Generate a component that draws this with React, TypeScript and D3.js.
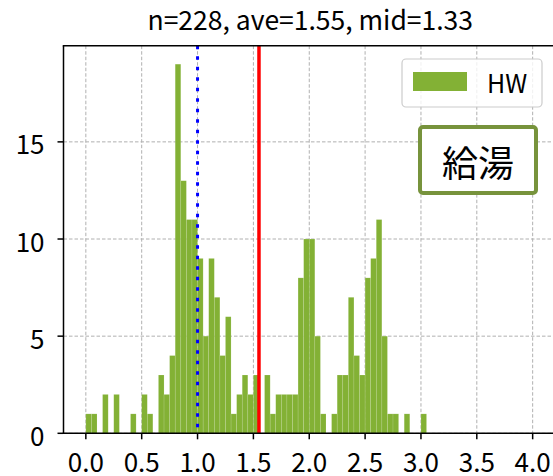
import React from "react";
import * as d3 from "d3";

const binWidth = 0.05;
const binStart = 0.0;
const counts = [
  1, 1, 0, 2, 0, 2, 0, 0, 1, 0, 2, 1, 0, 3, 2, 4, 19, 13, 11, 11,
  9, 5, 9, 7, 4, 6, 1, 2, 3, 2, 3, 0, 3, 1, 2, 2, 2, 2, 8, 10,
  10, 5, 1, 0, 1, 3, 3, 7, 4, 3, 8, 9, 11, 5, 1, 1, 0, 1, 0, 0, 1,
];
const xTicks = [0.0, 0.5, 1.0, 1.5, 2.0, 2.5, 3.0, 3.5, 4.0];
const yTicks = [0, 5, 10, 15];
const meanValue = 1.55;
const refValue = 1.0;
const titleText = "n=228, ave=1.55, mid=1.33";
const legendLabel = "HW";
const boxLabel = "給湯";

const W = 553;
const H = 476;
const FONT = "'Noto Sans CJK JP', 'Noto Sans', sans-serif";
const BAR = "#83b135";

export default function App() {
  const x = d3.scaleLinear().domain([-0.2, 4.2]).range([63.5, 555]);
  const y = d3.scaleLinear().domain([0, 19.95]).range([433.3, 45.7]);
  const [x0, x1] = x.range();
  const [yb, yt] = y.range();

  const bins = counts.map((c, i) => ({
    lo: binStart + i * binWidth,
    hi: binStart + (i + 1) * binWidth,
    c,
  }));

  return (
    <svg
      width={W}
      height={H}
      style={{ position: "absolute", left: 0, top: 0, background: "#fff" }}
      fontFamily={FONT}
    >
      <defs>
        <clipPath id="plot">
          <rect x={x0} y={yt} width={x1 - x0} height={yb - yt} />
        </clipPath>
      </defs>
      {/* grid */}
      <g stroke="#b0b0b0" strokeWidth={1} strokeDasharray="3.5,2" clipPath="url(#plot)">
        {xTicks.map((t) => (
          <line key={"gx" + t} x1={x(t)} x2={x(t)} y1={yt} y2={yb} />
        ))}
        {yTicks.map((t) => (
          <line key={"gy" + t} x1={x0} x2={x1} y1={y(t)} y2={y(t)} />
        ))}
      </g>
      {/* bars */}
      <g clipPath="url(#plot)">
        {bins
          .filter((b) => b.c > 0)
          .map((b, i) => (
            <rect
              key={i}
              x={x(b.lo)}
              width={x(b.hi) - x(b.lo)}
              y={y(b.c)}
              height={y(0) - y(b.c)}
              fill={BAR}
              stroke="#ffffff"
              strokeOpacity={0.2}
              strokeWidth={0.6}
            />
          ))}
        {/* reference lines */}
        <line
          x1={x(refValue)}
          x2={x(refValue)}
          y1={yt}
          y2={yb}
          stroke="#0000ff"
          strokeWidth={3}
          strokeDasharray="3.5,7"
        />
        <line
          x1={x(meanValue)}
          x2={x(meanValue)}
          y1={yt}
          y2={yb}
          stroke="#ff0000"
          strokeWidth={3.5}
        />
      </g>
      {/* spines */}
      <g stroke="#000" strokeWidth={1.5} fill="none">
        <line x1={x0} x2={x0} y1={yt} y2={yb + 0.75} />
        <line x1={x0 - 0.75} x2={x1} y1={yb} y2={yb} />
        <line x1={x0 - 0.75} x2={x1} y1={yt} y2={yt} />
        <line x1={x1} x2={x1} y1={yt} y2={yb} />
      </g>
      {/* x ticks */}
      <g>
        {xTicks.map((t) => (
          <g key={"xt" + t}>
            <line x1={x(t)} x2={x(t)} y1={yb} y2={yb + 6} stroke="#000" strokeWidth={1.5} />
            <text x={x(t)} y={yb + 39} textAnchor="middle" fontSize={26} fill="#000">
              {t.toFixed(1)}
            </text>
          </g>
        ))}
      </g>
      {/* y ticks */}
      <g>
        {yTicks.map((t) => (
          <g key={"yt" + t}>
            <line x1={x0 - 6} x2={x0} y1={y(t)} y2={y(t)} stroke="#000" strokeWidth={1.5} />
            <text
              x={x0 - 19}
              y={y(t) + 1}
              textAnchor="end"
              dominantBaseline="central"
              fontSize={26}
              fill="#000"
            >
              {t}
            </text>
          </g>
        ))}
      </g>
      {/* title */}
      <text x={(x0 + x1) / 2 + 1} y={30} textAnchor="middle" fontSize={26.5} fill="#000">
        {titleText}
      </text>
      {/* legend */}
      <g>
        <rect
          x={402}
          y={59}
          width={140}
          height={48}
          rx={4}
          fill="#fff"
          fillOpacity={0.8}
          stroke="#cccccc"
          strokeWidth={1.2}
        />
        <rect x={413} y={72} width={54} height={19} fill={BAR} />
        <text x={487} y={82} dominantBaseline="central" fontSize={25} fill="#000">
          {legendLabel}
        </text>
      </g>
      {/* text box */}
      <g>
        <rect
          x={420}
          y={127}
          width={116}
          height={66}
          rx={3}
          fill="#fff"
          stroke="#77933c"
          strokeWidth={4}
        />
        <text x={478} y={161} textAnchor="middle" dominantBaseline="central" fontSize={36} fill="#000">
          {boxLabel}
        </text>
      </g>
    </svg>
  );
}
